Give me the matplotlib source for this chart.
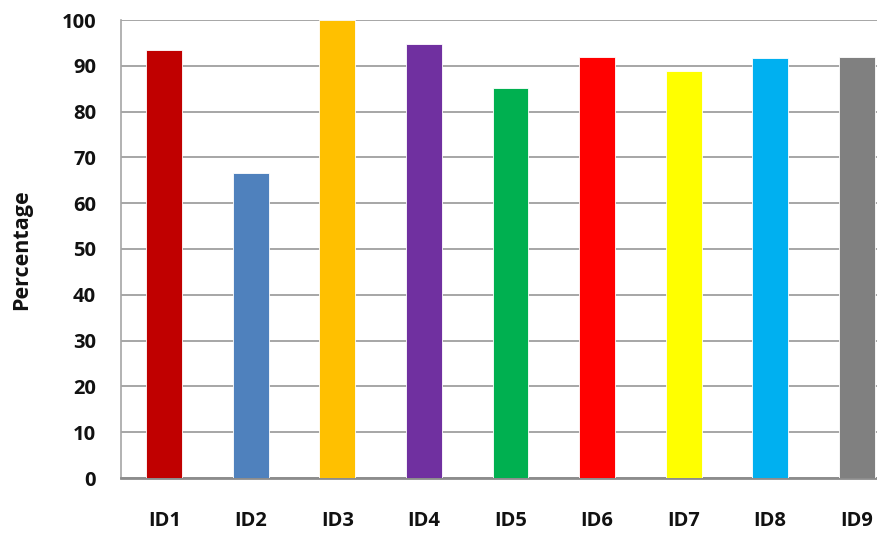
import matplotlib
matplotlib.use("Agg")
import matplotlib.pyplot as plt

categories = ["ID1", "ID2", "ID3", "ID4", "ID5", "ID6", "ID7", "ID8", "ID9"]
values = [93.4, 66.5, 100.0, 94.7, 85.1, 92.0, 88.9, 91.7, 92.0]
colors = ["#C00000", "#4F81BD", "#FFC000", "#7030A0", "#00B050",
          "#FF0000", "#FFFF00", "#00B0F0", "#808080"]
yticks = list(range(0, 101, 10))

plt.rcParams['font.family'] = ['Open Sans', 'DejaVu Sans']

fig = plt.figure(figsize=(8.77, 5.35), dpi=100)
W, H = 877, 535
left, right = 121, 900
top, bottom = 20, 478
ax = fig.add_axes([left / W, (H - bottom) / H, (right - left) / W, (bottom - top) / H])

x = list(range(len(categories)))
ax.bar(x, values, width=0.415, color=colors, zorder=3, edgecolor="white", linewidth=0.6)

ax.set_xlim(-0.5, len(categories) - 0.5)
ax.set_ylim(0, 100)
ax.set_yticks(yticks)
ax.set_yticklabels([str(t) for t in yticks], fontsize=14.5, fontweight="bold", color="#111111")
ax.set_xticks(x)
ax.set_xticklabels(categories, fontsize=14.5, fontweight="bold", color="#111111")
ax.tick_params(axis="y", length=0, pad=18)
ax.tick_params(axis="x", length=0, pad=24)

ax.grid(axis="y", color="#A6A6A6", linewidth=1.4, zorder=0)
ax.set_axisbelow(True)
for s in ["top", "right"]:
    ax.spines[s].set_visible(False)
ax.spines["left"].set_color("#A6A6A6")
ax.spines["left"].set_linewidth(1.2)
ax.spines["bottom"].set_color("#8C8C8C")
ax.spines["bottom"].set_linewidth(2)

fig.text(22 / W, 1 - 250 / H, "Percentage", rotation=90, ha="center", va="center",
         fontsize=15.5, fontweight="bold", color="#111111")

fig.savefig("out.png", dpi=100)
